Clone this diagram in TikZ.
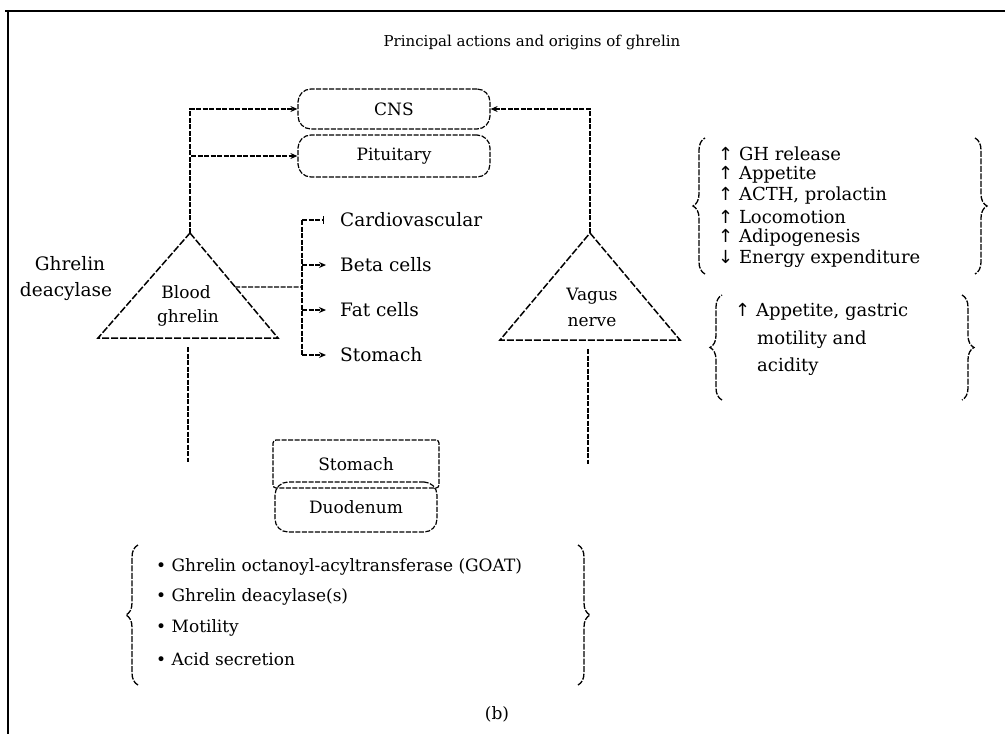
\documentclass[tikz,border=0pt]{standalone}
\usepackage{fontspec}
\setmainfont{DejaVu Serif}
\newfontfamily\symf{DejaVu Sans}
\usetikzlibrary{arrows.meta,decorations.pathreplacing,calc}
\begin{document}
\begin{tikzpicture}[x=1pt,y=-1pt,
  ln/.style={line width=1.2pt, dash pattern=on 5pt off 1.5pt},
  arr/.style={ln,-{Stealth[length=7pt,width=6pt]}},
  lbl/.style={font=\fontsize{18.5}{21}\selectfont, inner sep=0pt},
  lsm/.style={font=\fontsize{17}{20}\selectfont, inner sep=0pt},
  lrt/.style={font=\fontsize{18}{20}\selectfont, inner sep=0pt},
  pill/.style={draw, ln, rounded corners=13pt, minimum width=192pt, minimum height=40pt, font=\fontsize{17}{20}\selectfont},
  tri/.style={line width=1.5pt, dash pattern=on 7pt off 2pt},
  brc/.style={line width=1.3pt, dash pattern=on 6pt off 1.5pt, decorate, decoration={brace, amplitude=12pt}},
]
\useasboundingbox (0,0) rectangle (1005,734);
\draw[line width=2.5pt] (5,11) -- (1005,11);
\draw[line width=2.5pt] (8,11) -- (8,734);

\node[font=\fontsize{15}{18}\selectfont] (title) at (532,42) {Principal actions and origins of ghrelin};

% top boxes
\node[pill] (cns) at (394,109) {CNS};
\node[pill, minimum height=42pt] (pit) at (394,156) {Pituitary};

% blood ghrelin triangle
\coordinate (bApex) at (190,233);
\coordinate (bL) at (98,338);
\coordinate (bR) at (278,338);
\draw[tri] (bApex) -- (bR) -- (bL) -- cycle;
\node[lsm] (blood) at (186,292) {Blood};
\node[lsm] (bghr) at (188,318) {ghrelin};
\node[lbl] (deac1) at (70,264) {Ghrelin};
\node[lbl] (deac2) at (66,292) {deacylase};

% vagus nerve triangle
\coordinate (vApex) at (590,233);
\coordinate (vL) at (500,340);
\coordinate (vR) at (680,340);
\draw[tri] (vApex) -- (vR) -- (vL) -- cycle;
\node[lsm] (vagus) at (592,296) {Vagus};
\node[lsm] (nerve) at (592,322) {nerve};

% connectors to CNS / pituitary
\draw[arr] (bApex) |- (cns.west);
\draw[arr] (bApex) |- (pit.west);
\draw[arr] (vApex) |- (cns.east);

% peripheral targets
\coordinate (bMid) at ($(bApex)!0.514!(bR)$);
\coordinate (bus) at (302,287);
\coordinate (busT) at (302,220);
\coordinate (busB) at (302,355);
\draw[ln] (bMid) -- (bus);
\draw[ln] (busT) -- (busB);
\node[lbl, anchor=west] (cardio) at (340,220) {Cardiovascular};
\node[lbl, anchor=west] (beta) at (340,265) {Beta cells};
\node[lbl, anchor=west] (fat) at (340,310) {Fat cells};
\node[lbl, anchor=west] (stom) at (340,355) {Stomach};
\draw[ln, -{Bar[width=8pt]}, shorten >=16pt] (busT) -- (cardio.west);
\draw[arr, shorten >=14pt] (bus |- beta.west) -- (beta.west);
\draw[arr, shorten >=14pt] (bus |- fat.west) -- (fat.west);
\draw[arr, shorten >=14pt] (busB) -- (stom.west);

% lines from below
\coordinate (bBot) at ($(bL)!0.5!(bR)+(0,9)$);
\coordinate (vBot) at ($(vL)!0.5!(vR)+(-2,9)$);
\draw[ln] (bBot) -- ++(0,115) coordinate (bEnd);
\draw[ln] (vBot) -- ++(0,115) coordinate (vEnd);

% stomach / duodenum
\node[draw, ln, rounded corners=3pt, minimum width=166pt, minimum height=48pt, lsm] (stomach) at (356,464) {Stomach};
\node[pill, minimum width=162pt, minimum height=50pt, lsm] (duo) at (356,507) {Duodenum};

% right list 1
\node[lrt, anchor=west] (r1) at (718,154) {{\symf↑} GH release};
\node[lrt, anchor=west] (r2) at (718,175) {{\symf↑} Appetite};
\node[lrt, anchor=west] (r3) at (718,196) {{\symf↑} ACTH, prolactin};
\node[lrt, anchor=west] (r4) at (718,217) {{\symf↑} Locomotion};
\node[lrt, anchor=west] (r5) at (718,238) {{\symf↑} Adipogenesis};
\node[lrt, anchor=west] (r6) at (718,259) {{\symf↓} Energy expenditure};
\draw[brc] (705,274) -- (705,138);
\draw[brc] (975,138) -- (975,274);

% right list 2
\node[lrt, anchor=west] (s1) at (735,312) {{\symf↑} Appetite, gastric};
\node[lrt, anchor=west] (s2) at (757,340) {motility and};
\node[lrt, anchor=west] (s3) at (757,367) {acidity};
\draw[brc] (722,400) -- (722,295);
\draw[brc] (962,295) -- (962,400);

% bottom list
\node[lsm, anchor=west] (t1) at (156,567) {• Ghrelin octanoyl-acyltransferase (GOAT)};
\node[lsm, anchor=west] (t2) at (156,597) {• Ghrelin deacylase(s)};
\node[lsm, anchor=west] (t3) at (156,628) {• Motility};
\node[lsm, anchor=west] (t4) at (156,659) {• Acid secretion};
\draw[brc] (138,685) -- (138,545);
\draw[brc] (578,545) -- (578,685);

\node[lsm] (b) at (497,714) {(b)};
\end{tikzpicture}
\end{document}
